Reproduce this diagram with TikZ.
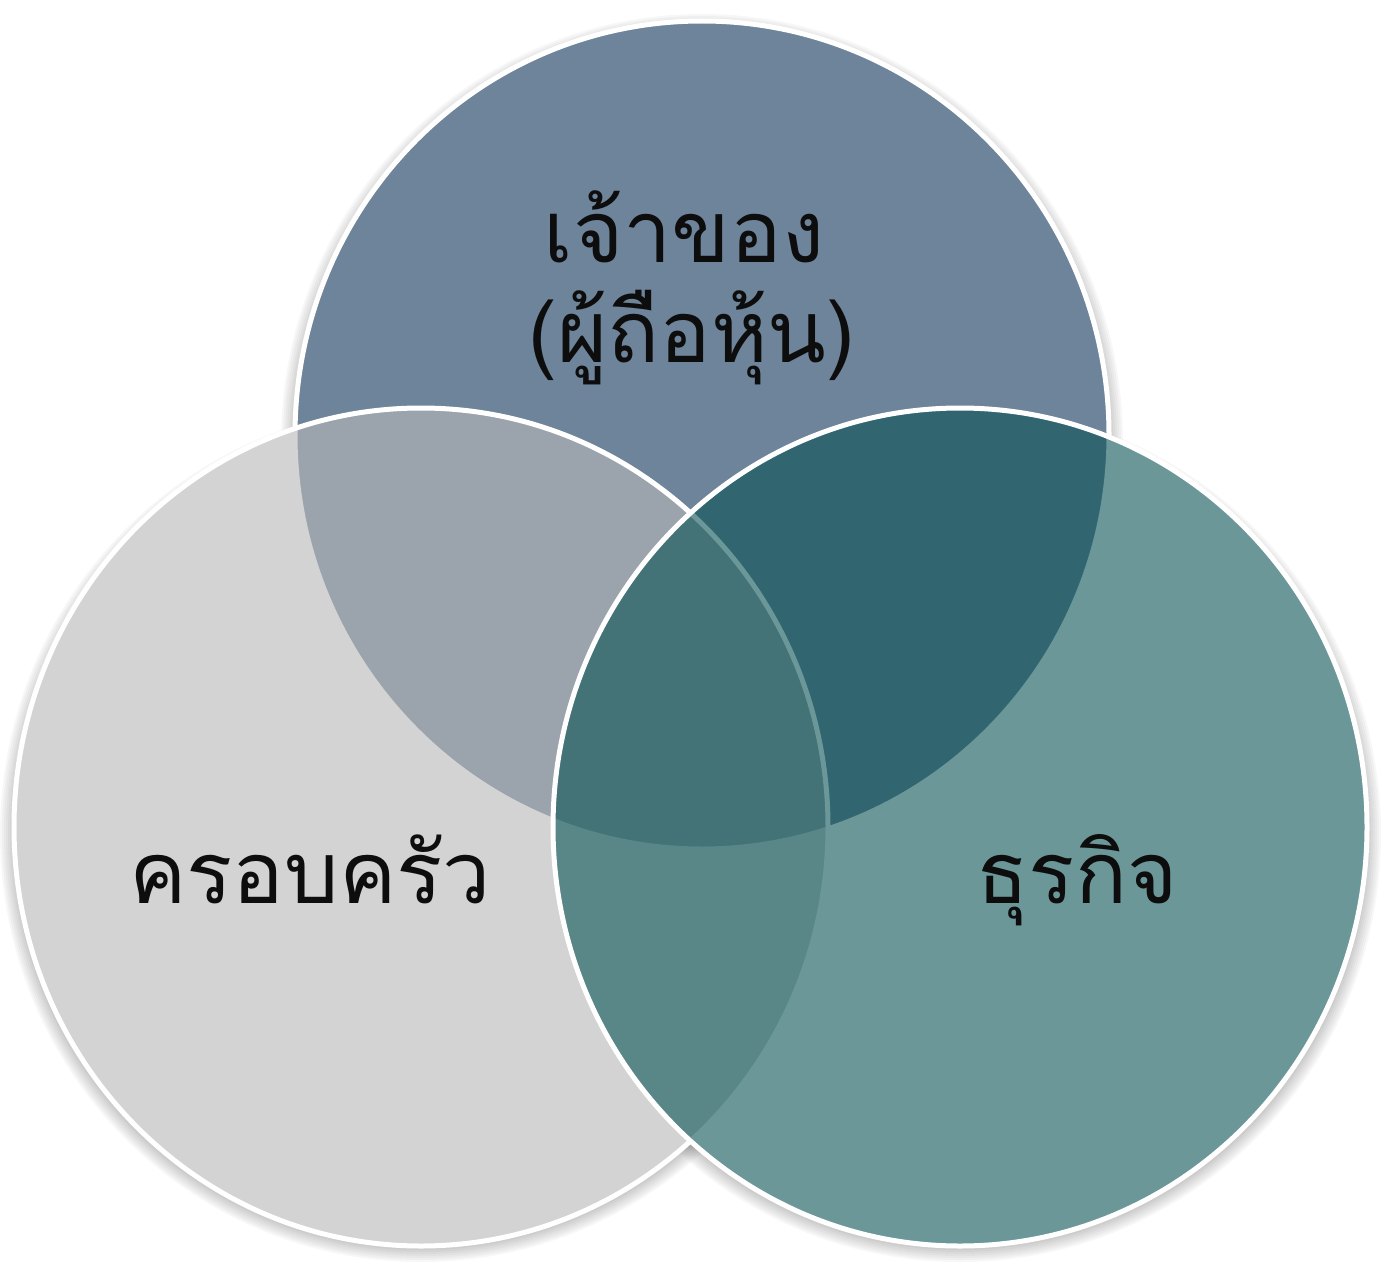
\documentclass[tikz,border=0pt]{standalone}
\usepackage{fontspec}
\newfontfamily\thaifont[Script=Thai]{Loma}
\usepackage{tikz}
\definecolor{ownerblue}{RGB}{110,132,154}
\definecolor{familygray}{RGB}{184,184,184}
\definecolor{businessteal}{RGB}{9,83,85}
\begin{document}
\begin{tikzpicture}[x=1pt,y=-1pt,
			ring/.style={draw=white,line width=5pt},
			label/.style={font=\thaifont\fontsize{86}{100}\selectfont,text=black!95,anchor=base,inner sep=0pt}]
			\useasboundingbox (0,0) rectangle (1399,1279);
			% soft shadow under the three circles
			\foreach \cx/\cy in {702/435, 421/827, 960/827}
			\foreach \k in {2,4,...,16}
			\fill[black,opacity=0.03] (\cx,\cy+7) ellipse [x radius=405+\k, y radius=412+\k];
			\fill[white] (702,435) ellipse [x radius=407, y radius=414]
			(421,827) ellipse [x radius=407, y radius=419]
			(960,827) ellipse [x radius=407, y radius=419];
			% owner, family, business
			\draw[ring,fill=ownerblue] (702,435) ellipse [x radius=407, y radius=414];
			\draw[ring,fill=familygray,fill opacity=0.62] (421,827) ellipse [x radius=407, y radius=419];
			\draw[ring,fill=businessteal,fill opacity=0.6] (960,827) ellipse [x radius=407, y radius=419];
			
			\node[label] (owner) at (684,262) {เจ้าของ};
			\node[label] (holder) at (692,362) {(ผู้ถือหุ้น)};
			\node[label] (family) at (310,903) {ครอบครัว};
			\node[label] (business) at (1077,903) {ธุรกิจ};
		\end{tikzpicture}
\end{document}
